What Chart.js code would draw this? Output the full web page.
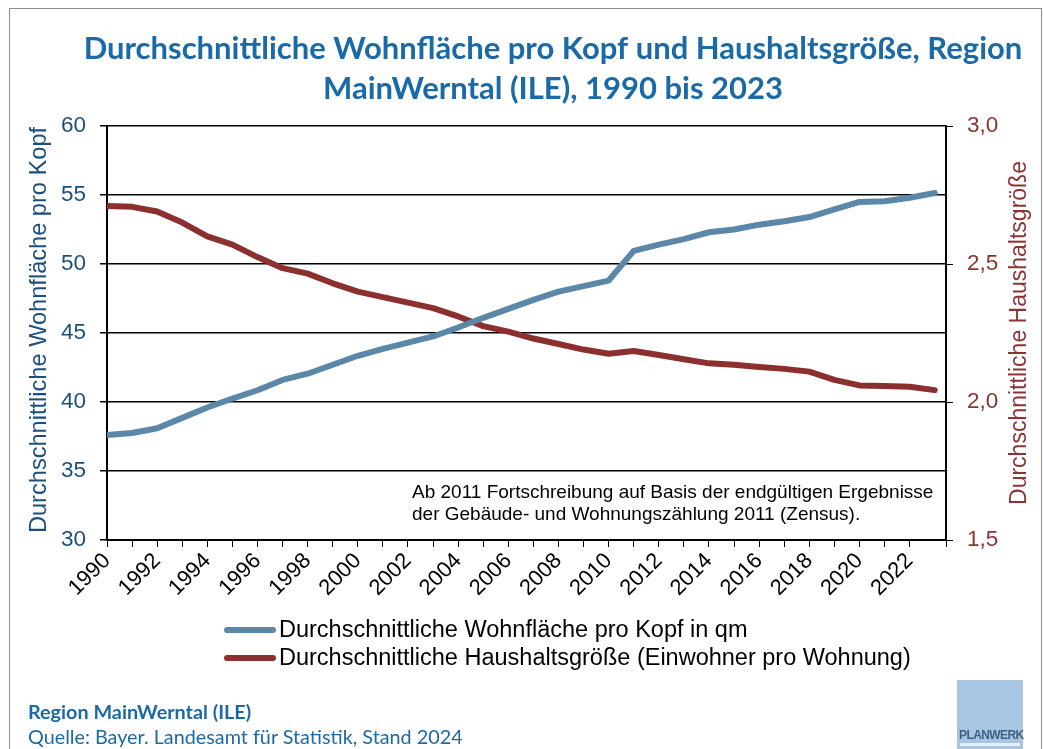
<!DOCTYPE html>
<html lang="de">
<head>
<meta charset="utf-8">
<title>Wohnfläche und Haushaltsgröße MainWerntal</title>
<script src="https://cdn.jsdelivr.net/npm/chart.js@4/dist/chart.umd.min.js"></script>
<style>
  body { margin: 0; background: #fff; }
  #wrap { position: relative; width: 1043px; height: 749px; overflow: hidden; }
  #frame { position: absolute; left: 9px; top: 8px; width: 1031px; height: 800px; border: 1px solid #8c8c8c; }
  #footer { position: absolute; left: 28px; top: 699px; font-family: Lato, "Open Sans", sans-serif; color: #1b6aa8; font-size: 19.8px; line-height: 25px; }
  #footer b { font-weight: 700; }
  #logo { position: absolute; left: 957px; top: 680px; width: 66px; height: 69px; background: #a8c6e2; }
  #logo span { position: absolute; left: 2px; top: 48px; font-family: "Liberation Sans", Arial, sans-serif; font-size: 12px; font-weight: bold; color: #3d6286; letter-spacing: -0.6px; }
  #logo i { position: absolute; left: 3px; top: 63px; width: 60px; height: 3px; background: #e6eef7; }
  canvas { position: absolute; left: 0; top: 0; }
</style>
</head>
<body>
<div id="wrap">
  <canvas id="wohnChart" width="1043" height="749"></canvas>
  <div id="frame"></div>
  <div id="footer"><b>Region MainWerntal (ILE)</b><br>Quelle: Bayer. Landesamt für Statistik, Stand 2024</div>
  <div id="logo"><span>PLANWERK</span><i></i></div>
</div>
<script>
// Jahre und Werte
const years = [1990, 1991, 1992, 1993, 1994, 1995, 1996, 1997, 1998, 1999,
               2000, 2001, 2002, 2003, 2004, 2005, 2006, 2007, 2008, 2009,
               2010, 2011, 2012, 2013, 2014, 2015, 2016, 2017, 2018, 2019,
               2020, 2021, 2022, 2023];
const wohnflaeche = [37.6, 37.75, 38.1, 38.85, 39.6, 40.25, 40.85, 41.6, 42.05, 42.7,
                     43.35, 43.85, 44.3, 44.75, 45.4, 46.1, 46.75, 47.4, 48.0, 48.4,
                     48.8, 50.95, 51.4, 51.8, 52.3, 52.5, 52.85, 53.1, 53.4, 53.95,
                     54.5, 54.55, 54.8, 55.15];
const haushalt = [2.71, 2.707, 2.69, 2.65, 2.60, 2.57, 2.525, 2.485, 2.465, 2.43,
                  2.40, 2.38, 2.36, 2.34, 2.31, 2.275, 2.255, 2.23, 2.21, 2.19,
                  2.175, 2.185, 2.17, 2.155, 2.14, 2.135, 2.127, 2.12, 2.11, 2.08,
                  2.06, 2.058, 2.055, 2.043];
const seriesLabels = ['Durchschnittliche Wohnfläche pro Kopf in qm',
                      'Durchschnittliche Haushaltsgröße (Einwohner pro Wohnung)'];
const titleLines = ['Durchschnittliche Wohnfläche pro Kopf und Haushaltsgröße, Region',
                    'MainWerntal (ILE), 1990 bis 2023'];
const leftTitle = 'Durchschnittliche Wohnfläche pro Kopf';
const rightTitle = 'Durchschnittliche Haushaltsgröße';
const noteLines = ['Ab 2011 Fortschreibung auf Basis der endgültigen Ergebnisse',
                   'der Gebäude- und Wohnungszählung 2011 (Zensus).'];

const blue = '#5b87a9';
const red = '#8b2f2f';
const arial = '"Liberation Sans", Arial, sans-serif';

// Titel, Achsentitel, Legende und Hinweis zeichnen
const extras = {
  id: 'extras',
  afterDraw(chart) {
    const ctx = chart.ctx;
    const area = chart.chartArea;
    ctx.save();

    ctx.fillStyle = '#1b6aa8';
    ctx.font = 'bold 31px Lato, "Open Sans", sans-serif';
    ctx.textAlign = 'center';
    ctx.textBaseline = 'middle';
    ctx.fillText(titleLines[0], 553, 49);
    ctx.fillText(titleLines[1], 553, 89);

    ctx.save();
    ctx.font = '23.6px ' + arial;
    ctx.translate(39, (area.top + area.bottom) / 2 - 3);
    ctx.rotate(-Math.PI / 2);
    ctx.fillStyle = '#1d4f7e';
    ctx.fillText(leftTitle, 0, 0);
    ctx.restore();

    ctx.save();
    ctx.font = '23px ' + arial;
    ctx.translate(1020, (area.top + area.bottom) / 2);
    ctx.rotate(-Math.PI / 2);
    ctx.fillStyle = '#8b3434';
    ctx.fillText(rightTitle, 0, 0);
    ctx.restore();

    // Hinweis im Diagramm
    ctx.fillStyle = '#000';
    ctx.textAlign = 'left';
    ctx.font = '19px ' + arial;
    ctx.fillText(noteLines[0], 412, 493);
    ctx.fillText(noteLines[1], 412, 515);

    // Legende
    ctx.font = '23.5px ' + arial;
    chart.data.datasets.forEach((ds, i) => {
      const y = 630 + i * 28;
      ctx.strokeStyle = ds.borderColor;
      ctx.lineWidth = 6;
      ctx.lineCap = 'round';
      ctx.beginPath();
      ctx.moveTo(227, y);
      ctx.lineTo(273, y);
      ctx.stroke();
      ctx.fillStyle = '#000';
      ctx.fillText(ds.label, 279, y + 1);
    });
    ctx.restore();
  }
};

const ctx = document.getElementById('wohnChart').getContext('2d');
new Chart(ctx, {
  type: 'line',
  data: {
    datasets: [{
      label: seriesLabels[0],
      data: years.map((y, i) => ({ x: y, y: wohnflaeche[i] })),
      borderColor: blue,
      borderWidth: 6,
      pointRadius: 0,
      borderCapStyle: 'round',
      borderJoinStyle: 'round',
      yAxisID: 'y'
    }, {
      label: seriesLabels[1],
      data: years.map((y, i) => ({ x: y, y: haushalt[i] })),
      borderColor: red,
      borderWidth: 6,
      pointRadius: 0,
      borderCapStyle: 'round',
      borderJoinStyle: 'round',
      yAxisID: 'y1'
    }]
  },
  options: {
    responsive: false,
    animation: false,
    devicePixelRatio: 1,
    layout: { padding: { top: 126, left: 10, right: 0, bottom: 149 } },
    plugins: {
      legend: { display: false },
      title: { display: false },
      tooltip: { enabled: false }
    },
    scales: {
      x: {
        type: 'linear',
        min: 1990,
        max: 2023.45,
        afterFit: s => { s.height = 60; },
        grid: { drawOnChartArea: false, color: '#000', tickLength: 7, lineWidth: 1 },
        border: { color: '#000', width: 2 },
        ticks: {
          stepSize: 1,
          autoSkip: false,
          maxRotation: 45,
          minRotation: 45,
          padding: 1,
          color: '#000',
          font: { family: arial, size: 22 },
          callback: v => (Number.isInteger(v) && v % 2 === 0) ? String(v) : ''
        }
      },
      y: {
        position: 'left',
        min: 30,
        max: 60,
        afterFit: s => { s.width = 97; },
        grid: { color: '#000', lineWidth: 1.5, tickLength: 7 },
        border: { color: '#000', width: 2 },
        ticks: {
          stepSize: 5,
          padding: 14,
          color: '#1d4f7e',
          font: { family: arial, size: 22.5 }
        }
      },
      y1: {
        position: 'right',
        min: 1.5,
        max: 3.0,
        afterFit: s => { s.width = 97; },
        grid: { drawOnChartArea: false, color: '#000', tickLength: 7 },
        border: { color: '#000', width: 2 },
        ticks: {
          stepSize: 0.5,
          padding: 14,
          color: '#8b3434',
          font: { family: arial, size: 22.5 },
          callback: v => v.toFixed(1).replace('.', ',')
        }
      }
    }
  },
  plugins: [extras]
});
</script>
</body>
</html>
